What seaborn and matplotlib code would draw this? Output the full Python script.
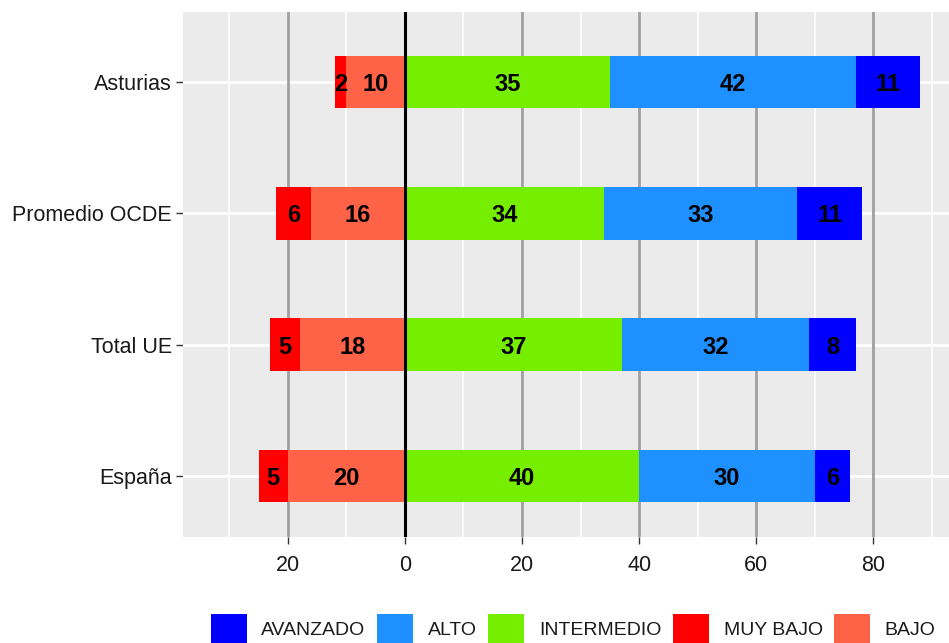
import pandas as pd
import numpy as np
import matplotlib.pyplot as plt
import seaborn as sns
from matplotlib.patches import Patch

# Data (percent of students per level)
regions = ['Asturias', 'Promedio OCDE', 'Total UE', 'España']
muy_bajo = [2, 6, 5, 5]
bajo = [10, 16, 18, 20]
intermedio = [35, 34, 37, 40]
alto = [42, 33, 32, 30]
avanzado = [11, 11, 8, 6]

levels = ['AVANZADO', 'ALTO', 'INTERMEDIO', 'MUY BAJO', 'BAJO']
colors = {'AVANZADO': '#0000FF', 'ALTO': '#1E90FF', 'INTERMEDIO': '#76EE00',
          'MUY BAJO': '#FF0000', 'BAJO': '#FF6347'}

df = pd.DataFrame({'region': regions, 'muy_bajo': muy_bajo, 'bajo': bajo,
                   'intermedio': intermedio, 'alto': alto, 'avanzado': avanzado})
df['r1'] = df['intermedio']
df['r2'] = df['r1'] + df['alto']
df['r3'] = df['r2'] + df['avanzado']
df['l1'] = -df['bajo']
df['l2'] = df['l1'] - df['muy_bajo']

sns.set_theme(style='darkgrid')
plt.rcParams['font.family'] = ['Liberation Sans', 'DejaVu Sans']

fig = plt.figure(figsize=(9.49, 6.43), dpi=100)
ax = fig.add_axes([0.1928, 0.1649, 0.8072, 0.8164])
ax.set_facecolor('#EBEBEB')

# stacked bars drawn as overlapping cumulative totals
for col, lev in [('r3', 'AVANZADO'), ('r2', 'ALTO'), ('r1', 'INTERMEDIO'),
                 ('l2', 'MUY BAJO'), ('l1', 'BAJO')]:
    sns.barplot(data=df, x=col, y='region', order=regions, orient='h',
                color=colors[lev], saturation=1, width=0.4, ax=ax,
                linewidth=0, zorder=3)

# value labels centred in each segment
for i, r in df.iterrows():
    segs = [(-r['bajo'] - r['muy_bajo'] / 2, r['muy_bajo']),
            (-r['bajo'] / 2, r['bajo']),
            (r['intermedio'] / 2, r['intermedio']),
            (r['r1'] + r['alto'] / 2, r['alto']),
            (r['r2'] + r['avanzado'] / 2, r['avanzado'])]
    for xc, v in segs:
        ax.text(xc, i, f'{v}', ha='center', va='center_baseline', fontsize=17,
                fontweight='bold', color='black', zorder=6)

ax.set_xlim(-37.9, 92.9)
ax.set_ylim(3.464, -0.533)

major = [-20, 0, 20, 40, 60, 80]
minor = [-30, -10, 10, 30, 50, 70, 90]
ax.set_xticks(major)
ax.set_xticklabels([str(abs(t)) for t in major])
ax.set_xticks(minor, minor=True)

ax.grid(False)
for m in minor:
    ax.axvline(m, color='white', lw=1.2, zorder=1)
for y in range(len(regions)):
    ax.axhline(y, color='white', lw=2, zorder=1)
for m in [-20, 20, 40, 60, 80]:
    ax.axvline(m, color='#A0A0A0', lw=2, zorder=2)
ax.axvline(0, color='black', lw=2.2, zorder=5)

ax.set_xlabel('')
ax.set_ylabel('')
ax.tick_params(axis='both', which='major', bottom=True, left=True, length=5,
               width=1, color='#333333', labelsize=15.5, labelcolor='#1a1a1a')
ax.tick_params(axis='x', which='major', pad=8)
ax.tick_params(axis='y', which='major', pad=3)
ax.tick_params(axis='x', which='minor', length=0)
for s in ax.spines.values():
    s.set_visible(False)

handles = [Patch(facecolor=colors[l], edgecolor='none', label=l) for l in levels]
fig.legend(handles=handles, loc='center', bbox_to_anchor=(0.604, 0.022), ncol=5,
           frameon=False, fontsize=14, handlelength=1.85, handleheight=2.0,
           handletextpad=0.75, columnspacing=0.6, labelcolor='#1a1a1a')

fig.savefig('out.png', dpi=100)
